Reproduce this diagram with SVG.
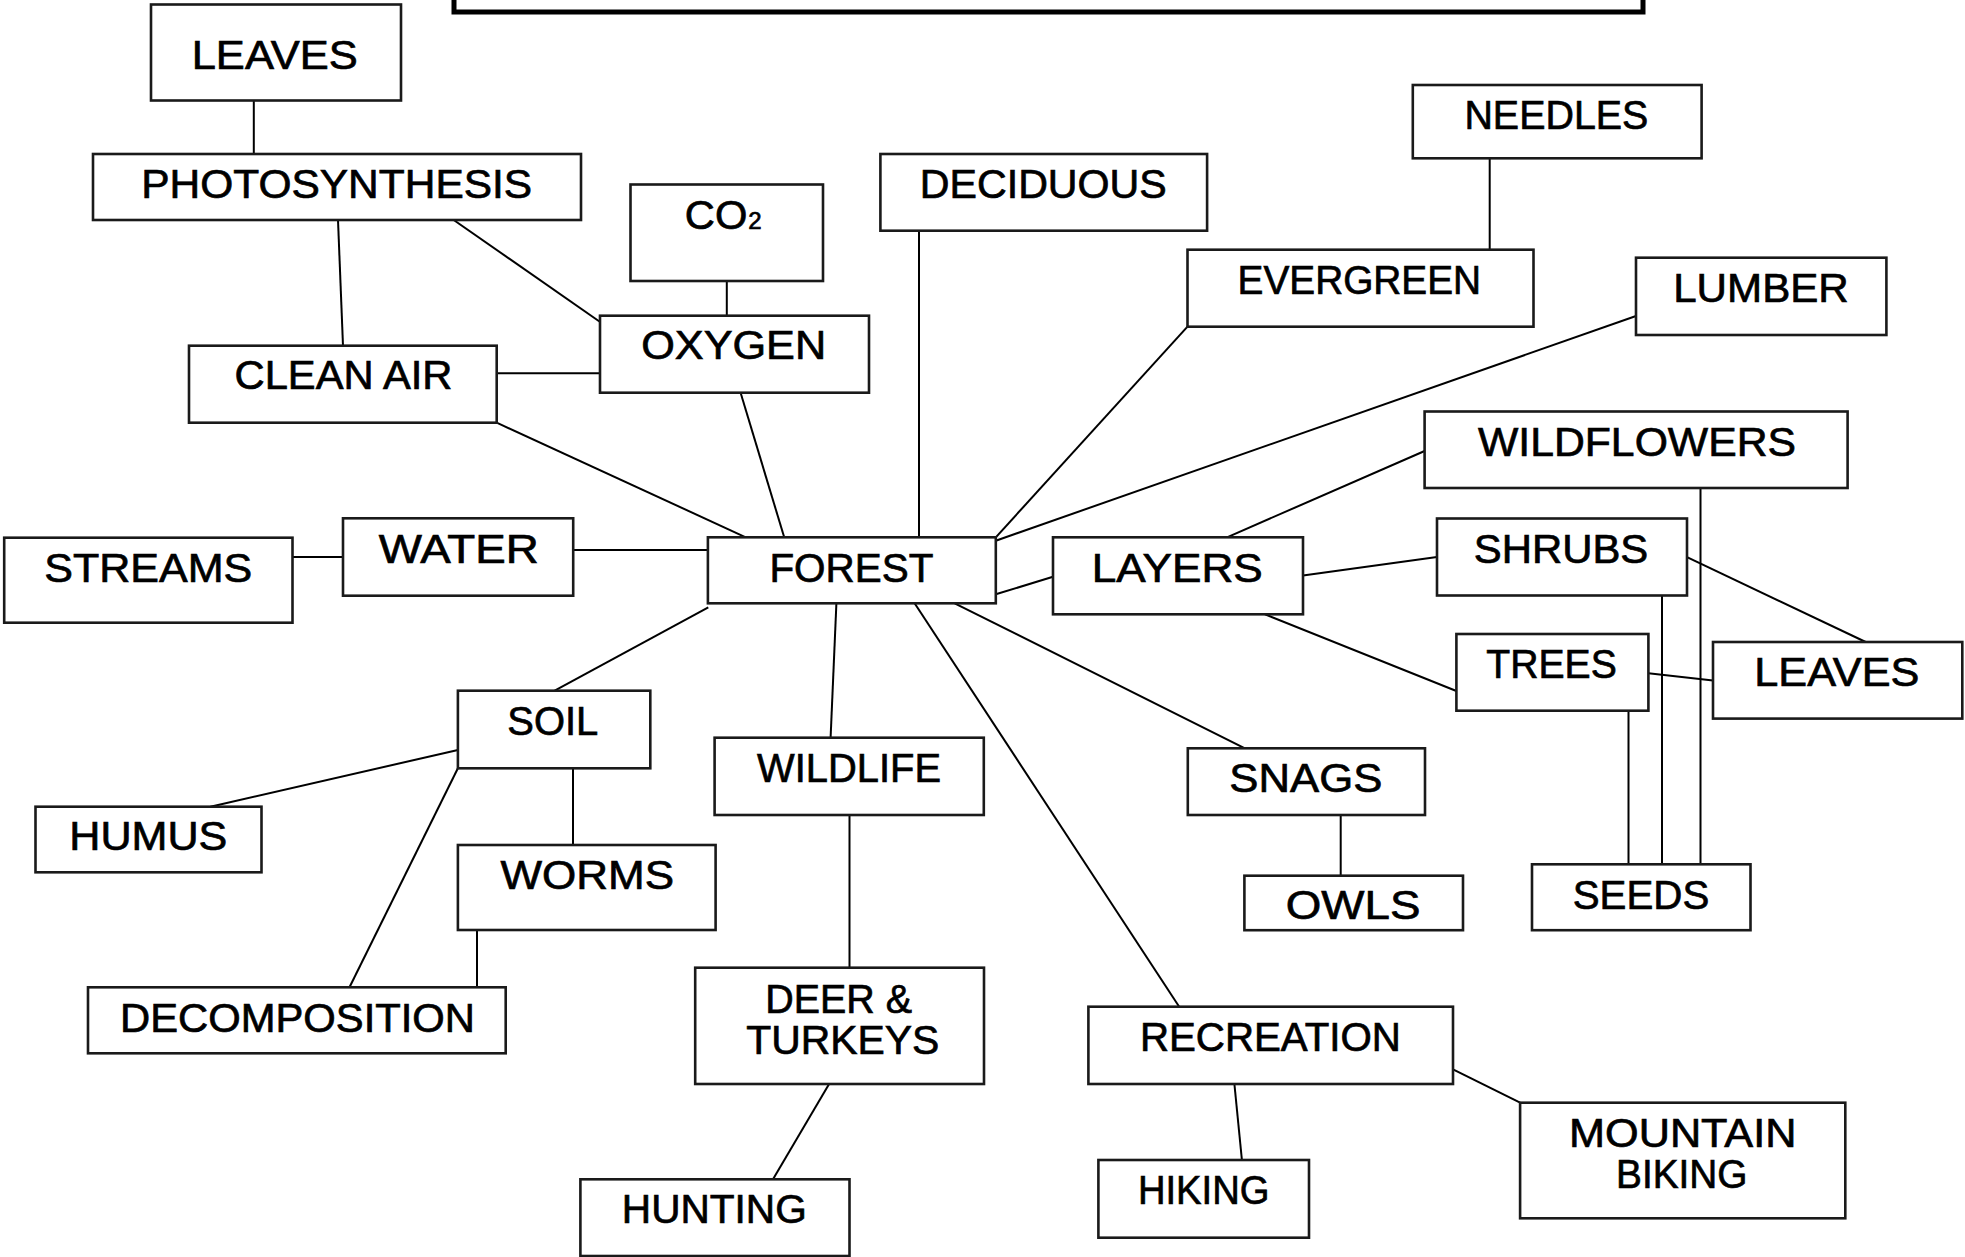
<svg xmlns="http://www.w3.org/2000/svg" width="1965" height="1257" viewBox="0 0 1965 1257">
<style>
  .box { fill: #fff; stroke: #1a1a1a; stroke-width: 2.6; }
  .title { fill: #fff; stroke: #000; stroke-width: 5; }
  .t { font-family: "Liberation Sans", Arial, sans-serif; font-size: 41px; fill: #000; stroke: #000; stroke-width: 0.7; text-anchor: middle; }
  .c line { stroke: #000; stroke-width: 2; }
</style>
<rect width="1965" height="1257" fill="#fff"/>
<g id="connectors" class="c">
  <line x1="253.8" y1="100.5" x2="253.8" y2="154"/>
  <line x1="338" y1="220" x2="343" y2="345.7"/>
  <line x1="453.7" y1="220" x2="599.8" y2="321.7"/>
  <line x1="496.7" y1="373.3" x2="600" y2="373.3"/>
  <line x1="726.8" y1="281" x2="726.8" y2="315.7"/>
  <line x1="496.7" y1="422.7" x2="745.8" y2="537.3"/>
  <line x1="740.6" y1="392.7" x2="784.2" y2="537.3"/>
  <line x1="919" y1="230.7" x2="919" y2="537.3"/>
  <line x1="1489.7" y1="158.3" x2="1489.7" y2="249.7"/>
  <line x1="1187.5" y1="326.7" x2="995.8" y2="537.3"/>
  <line x1="1636" y1="316" x2="995.8" y2="540.7"/>
  <line x1="292.5" y1="557" x2="343" y2="557"/>
  <line x1="573.2" y1="550" x2="707.9" y2="550"/>
  <line x1="995.8" y1="594.3" x2="1053" y2="576.7"/>
  <line x1="1227" y1="537.3" x2="1424.6" y2="451"/>
  <line x1="1303" y1="575.5" x2="1437" y2="557.1"/>
  <line x1="1265" y1="614.3" x2="1456.4" y2="691"/>
  <line x1="1687" y1="557.1" x2="1865.7" y2="642"/>
  <line x1="1648.4" y1="673.2" x2="1713" y2="680.4"/>
  <line x1="1628.5" y1="710.7" x2="1628.5" y2="864.3"/>
  <line x1="1662" y1="584" x2="1662" y2="872.3"/>
  <line x1="1700.5" y1="488" x2="1700.5" y2="872.3"/>
  <line x1="708.3" y1="607.3" x2="554.7" y2="690.7"/>
  <line x1="836.4" y1="603.3" x2="830.6" y2="737.7"/>
  <line x1="914.6" y1="603.3" x2="1179.2" y2="1006.7"/>
  <line x1="954.7" y1="603.3" x2="1244.9" y2="748.3"/>
  <line x1="457.9" y1="750" x2="210.4" y2="806.7"/>
  <line x1="457.9" y1="768.3" x2="349.5" y2="987.3"/>
  <line x1="573" y1="768.3" x2="573" y2="845"/>
  <line x1="477" y1="930" x2="477" y2="987.3"/>
  <line x1="849.5" y1="815" x2="849.5" y2="967.7"/>
  <line x1="829.1" y1="1084" x2="773" y2="1179.3"/>
  <line x1="1340.7" y1="815" x2="1340.7" y2="875.7"/>
  <line x1="1234.4" y1="1084" x2="1241.9" y2="1160"/>
  <line x1="1453" y1="1069.3" x2="1520.1" y2="1102.7"/>
</g>
<g id="title-box"><rect class="title" x="454" y="-20" width="1189" height="32"/></g>
<g id="leaves-top"><rect class="box" x="151" y="4.5" width="250" height="96"/><text class="t" x="274.7" y="69.3" textLength="166" lengthAdjust="spacingAndGlyphs">LEAVES</text></g>
<g id="photosynthesis"><rect class="box" x="93" y="154" width="488" height="66"/><text class="t" x="336.7" y="198.3" textLength="391" lengthAdjust="spacingAndGlyphs">PHOTOSYNTHESIS</text></g>
<g id="co2"><rect class="box" x="630.5" y="184.5" width="192.5" height="96.5"/><text class="t" x="684.8" y="228.7" style="text-anchor:start"><tspan textLength="62.5" lengthAdjust="spacingAndGlyphs">CO</tspan><tspan font-size="24" dx="1">2</tspan></text></g>
<g id="oxygen"><rect class="box" x="600" y="315.7" width="269" height="77"/><text class="t" x="733.7" y="359" textLength="185" lengthAdjust="spacingAndGlyphs">OXYGEN</text></g>
<g id="clean-air"><rect class="box" x="189" y="345.7" width="307.7" height="77"/><text class="t" x="343.5" y="389.3" textLength="218" lengthAdjust="spacingAndGlyphs">CLEAN AIR</text></g>
<g id="deciduous"><rect class="box" x="880.4" y="154" width="326.7" height="76.7"/><text class="t" x="1043.3" y="198.3" textLength="247" lengthAdjust="spacingAndGlyphs">DECIDUOUS</text></g>
<g id="needles"><rect class="box" x="1412.8" y="85" width="288.8" height="73.3"/><text class="t" x="1556.4" y="129.3" textLength="184" lengthAdjust="spacingAndGlyphs">NEEDLES</text></g>
<g id="evergreen"><rect class="box" x="1187.5" y="249.7" width="346" height="77"/><text class="t" x="1359.3" y="293.5" textLength="243.5" lengthAdjust="spacingAndGlyphs">EVERGREEN</text></g>
<g id="lumber"><rect class="box" x="1636" y="257.7" width="250.4" height="77.3"/><text class="t" x="1761" y="301.7" textLength="175.6" lengthAdjust="spacingAndGlyphs">LUMBER</text></g>
<g id="wildflowers"><rect class="box" x="1424.6" y="411.5" width="423" height="76.5"/><text class="t" x="1637" y="456" textLength="318" lengthAdjust="spacingAndGlyphs">WILDFLOWERS</text></g>
<g id="streams"><rect class="box" x="4.2" y="537.7" width="288.3" height="85"/><text class="t" x="148.3" y="582.3" textLength="208" lengthAdjust="spacingAndGlyphs">STREAMS</text></g>
<g id="water"><rect class="box" x="343" y="518.3" width="230.2" height="77.4"/><text class="t" x="458.7" y="563.3" textLength="160" lengthAdjust="spacingAndGlyphs">WATER</text></g>
<g id="forest"><rect class="box" x="707.9" y="537.3" width="287.9" height="66"/><text class="t" x="851.4" y="582.3" textLength="164" lengthAdjust="spacingAndGlyphs">FOREST</text></g>
<g id="layers"><rect class="box" x="1053" y="537.3" width="250" height="77"/><text class="t" x="1177.3" y="582.3" textLength="171" lengthAdjust="spacingAndGlyphs">LAYERS</text></g>
<g id="shrubs"><rect class="box" x="1437" y="518.5" width="250" height="77"/><text class="t" x="1561" y="562.5" textLength="174.6" lengthAdjust="spacingAndGlyphs">SHRUBS</text></g>
<g id="trees"><rect class="box" x="1456.4" y="634" width="192" height="76.7"/><text class="t" x="1551.6" y="678" textLength="130.5" lengthAdjust="spacingAndGlyphs">TREES</text></g>
<g id="leaves-right"><rect class="box" x="1713" y="642" width="249.3" height="76.6"/><text class="t" x="1836.8" y="686" textLength="165" lengthAdjust="spacingAndGlyphs">LEAVES</text></g>
<g id="soil"><rect class="box" x="457.9" y="690.7" width="192.4" height="77.6"/><text class="t" x="552.8" y="735" textLength="91" lengthAdjust="spacingAndGlyphs">SOIL</text></g>
<g id="humus"><rect class="box" x="35.5" y="806.7" width="226" height="65.6"/><text class="t" x="148.3" y="850" textLength="158" lengthAdjust="spacingAndGlyphs">HUMUS</text></g>
<g id="wildlife"><rect class="box" x="714.6" y="737.7" width="269.2" height="77.3"/><text class="t" x="849.1" y="782.3" textLength="184" lengthAdjust="spacingAndGlyphs">WILDLIFE</text></g>
<g id="snags"><rect class="box" x="1187.8" y="748.3" width="237.2" height="66.7"/><text class="t" x="1305.8" y="791.7" textLength="153" lengthAdjust="spacingAndGlyphs">SNAGS</text></g>
<g id="owls"><rect class="box" x="1244.4" y="875.7" width="218.6" height="54.5"/><text class="t" x="1353.1" y="919.3" textLength="134.7" lengthAdjust="spacingAndGlyphs">OWLS</text></g>
<g id="seeds"><rect class="box" x="1532" y="864.3" width="218.5" height="65.9"/><text class="t" x="1641" y="908.5" textLength="136.5" lengthAdjust="spacingAndGlyphs">SEEDS</text></g>
<g id="worms"><rect class="box" x="457.9" y="845" width="257.7" height="85"/><text class="t" x="587.3" y="889.3" textLength="173.5" lengthAdjust="spacingAndGlyphs">WORMS</text></g>
<g id="decomposition"><rect class="box" x="88" y="987.3" width="417.7" height="66"/><text class="t" x="297.5" y="1031.7" textLength="355" lengthAdjust="spacingAndGlyphs">DECOMPOSITION</text></g>
<g id="deer-turkeys"><rect class="box" x="695.2" y="967.7" width="288.8" height="116.3"/><text class="t" x="838.6" y="1012.7" textLength="146.7" lengthAdjust="spacingAndGlyphs">DEER &amp;</text><text class="t" x="842.8" y="1054.3" textLength="193" lengthAdjust="spacingAndGlyphs">TURKEYS</text></g>
<g id="hunting"><rect class="box" x="580.4" y="1179.3" width="269.1" height="76.7"/><text class="t" x="714.3" y="1223.3" textLength="185" lengthAdjust="spacingAndGlyphs">HUNTING</text></g>
<g id="recreation"><rect class="box" x="1088.4" y="1006.7" width="364.6" height="77.3"/><text class="t" x="1270.4" y="1050.7" textLength="261" lengthAdjust="spacingAndGlyphs">RECREATION</text></g>
<g id="hiking"><rect class="box" x="1098.4" y="1160" width="210.6" height="77.7"/><text class="t" x="1203.7" y="1204" textLength="131.6" lengthAdjust="spacingAndGlyphs">HIKING</text></g>
<g id="mountain-biking"><rect class="box" x="1520.1" y="1102.7" width="325.2" height="115.6"/><text class="t" x="1682.7" y="1146.7" textLength="227.4" lengthAdjust="spacingAndGlyphs">MOUNTAIN</text><text class="t" x="1681.8" y="1188.3" textLength="131.5" lengthAdjust="spacingAndGlyphs">BIKING</text></g>
</svg>
